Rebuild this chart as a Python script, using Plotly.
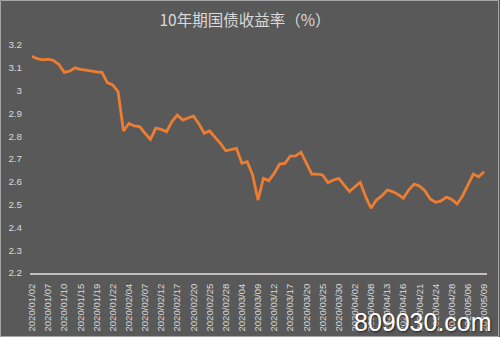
import plotly.graph_objects as go

dates = [
    "2020/01/02", "2020/01/03", "2020/01/06", "2020/01/07", "2020/01/08", "2020/01/09", "2020/01/10",
    "2020/01/13", "2020/01/14", "2020/01/15", "2020/01/16", "2020/01/17", "2020/01/19", "2020/01/20",
    "2020/01/21", "2020/01/22", "2020/01/23",
    "2020/02/03", "2020/02/04", "2020/02/05", "2020/02/06", "2020/02/07", "2020/02/10", "2020/02/11",
    "2020/02/12", "2020/02/13", "2020/02/14", "2020/02/17", "2020/02/18", "2020/02/19", "2020/02/20",
    "2020/02/21", "2020/02/24", "2020/02/25", "2020/02/26", "2020/02/27", "2020/02/28",
    "2020/03/02", "2020/03/03", "2020/03/04", "2020/03/05", "2020/03/06", "2020/03/09", "2020/03/10",
    "2020/03/11", "2020/03/12", "2020/03/13", "2020/03/16", "2020/03/17", "2020/03/18", "2020/03/19",
    "2020/03/20", "2020/03/23", "2020/03/24", "2020/03/25", "2020/03/26", "2020/03/27", "2020/03/30",
    "2020/03/31",
    "2020/04/01", "2020/04/02", "2020/04/03", "2020/04/07", "2020/04/08", "2020/04/09", "2020/04/10",
    "2020/04/13", "2020/04/14", "2020/04/15", "2020/04/16", "2020/04/17", "2020/04/20", "2020/04/21",
    "2020/04/22", "2020/04/23", "2020/04/24", "2020/04/26", "2020/04/27", "2020/04/28", "2020/04/29",
    "2020/04/30",
    "2020/05/06", "2020/05/07", "2020/05/08", "2020/05/09",
]

yields = [
    3.150, 3.140, 3.135, 3.138, 3.132, 3.115, 3.080, 3.085, 3.100, 3.093,
    3.090, 3.085, 3.082, 3.080, 3.035, 3.025, 2.995, 2.823, 2.856, 2.845,
    2.842, 2.813, 2.786, 2.835, 2.830, 2.820, 2.864, 2.893, 2.871, 2.880,
    2.889, 2.855, 2.813, 2.823, 2.798, 2.769, 2.736, 2.742, 2.747, 2.681,
    2.688, 2.630, 2.520, 2.615, 2.605, 2.637, 2.678, 2.681, 2.713, 2.714,
    2.729, 2.681, 2.634, 2.634, 2.630, 2.596, 2.608, 2.615, 2.585, 2.557,
    2.578, 2.598, 2.535, 2.484, 2.520, 2.538, 2.564, 2.557, 2.545, 2.528,
    2.564, 2.590, 2.582, 2.561, 2.525, 2.510, 2.516, 2.533, 2.523, 2.503,
    2.538, 2.586, 2.634, 2.622, 2.644,
]

tick_labels = dates[::3]
y_ticks = [2.2, 2.3, 2.4, 2.5, 2.6, 2.7, 2.8, 2.9, 3.0, 3.1, 3.2]
y_tick_text = ["2.2", "2.3", "2.4", "2.5", "2.6", "2.7", "2.8", "2.9", "3", "3.1", "3.2"]

title_text = "10年期国债收益率（%）"
watermark = "809030.com"

W, H = 500, 337
L, R, T, B = 30, 13, 45, 64
pw, ph = W - L - R, H - T - B

def px_x(p):
    return (p - L) / pw

def px_y(p):
    return (H - B - p) / ph

fig = go.Figure()
fig.add_trace(go.Scatter(
    x=dates, y=yields, mode="lines",
    line=dict(color="#ED7D31", width=2.8),
    hoverinfo="x+y",
))

txt = "#d9d9d9"
fig.update_layout(
    width=W, height=H,
    margin=dict(l=L, r=R, t=T, b=B, autoexpand=False),
    paper_bgcolor="#595959",
    plot_bgcolor="#595959",
    showlegend=False,
    font=dict(family="Liberation Sans, Noto Sans CJK SC, sans-serif", color=txt, size=9),
    title=dict(
        text=title_text, x=0.49, xanchor="center", y=1 - 21 / H, yanchor="middle",
        font=dict(family="Noto Sans CJK SC, sans-serif", size=15.5, color=txt),
    ),
    xaxis=dict(
        type="category",
        range=[-0.37, 84.55],
        tickmode="array", tickvals=tick_labels, ticktext=tick_labels,
        tickangle=-90, automargin=False,
        showgrid=False, zeroline=False,
        showline=True, linecolor="#bfbfbf", linewidth=1.5,
        ticks="", ticklabelstandoff=5,
        tickfont=dict(size=9.6, color=txt),
    ),
    yaxis=dict(
        range=[2.2, 3.2], automargin=False,
        tickmode="array", tickvals=y_ticks, ticktext=y_tick_text,
        showgrid=False, zeroline=False, showline=False,
        ticks="", ticklabelstandoff=7,
        tickfont=dict(size=9.8, color=txt),
    ),
    annotations=[dict(
        text=watermark, xref="paper", yref="paper",
        x=px_x(494), y=px_y(322), xanchor="right", yanchor="middle",
        showarrow=False,
        font=dict(family="Liberation Sans, Arial, sans-serif", size=25, color="#ffffff",
                  shadow="1px 1px 2px #222"),
    )],
    shapes=[dict(
        type="rect", xref="paper", yref="paper",
        x0=px_x(0.5), x1=px_x(498.5), y0=px_y(336.5), y1=px_y(0.5),
        line=dict(color="#a6a6a6", width=1), fillcolor="rgba(0,0,0,0)", layer="below",
    )],
)

fig.write_html("out.html")
